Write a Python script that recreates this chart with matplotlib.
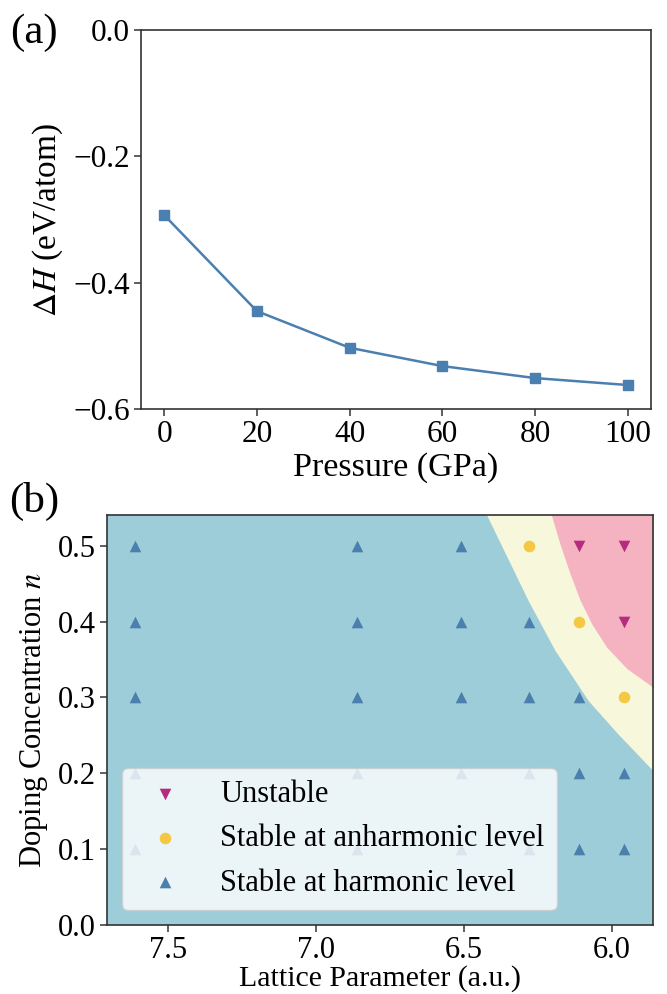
import matplotlib
matplotlib.use("Agg")
import matplotlib.pyplot as plt

plt.rcParams["font.family"] = ["Liberation Serif", "DejaVu Serif"]
plt.rcParams["mathtext.fontset"] = "stix"

# (a) formation enthalpy vs pressure
pressure = [0, 20, 40, 60, 80, 100]
delta_h = [-0.293, -0.445, -0.503, -0.532, -0.551, -0.562]

# (b) stability map
lattice = [7.61, 6.86, 6.51, 6.28, 6.11, 5.96]
doping = [0.1, 0.2, 0.3, 0.4, 0.5]
# status per (doping row, lattice column): U unstable, A anharmonic, H harmonic
status = [
    ["H", "H", "H", "H", "H", "H"],   # n = 0.1
    ["H", "H", "H", "H", "H", "H"],   # n = 0.2
    ["H", "H", "H", "H", "H", "A"],   # n = 0.3
    ["H", "H", "H", "H", "A", "U"],   # n = 0.4
    ["H", "H", "H", "A", "U", "U"],   # n = 0.5
]

# region boundaries (lattice parameter, doping)
harm_edge_a = [6.421, 6.355, 6.283, 6.192, 6.080, 5.982, 5.862, 5.850]
harm_edge_n = [0.539, 0.486, 0.428, 0.362, 0.296, 0.253, 0.204, 0.200]
unst_edge_a = [6.203, 6.175, 6.141, 6.107, 6.068, 6.017, 5.949, 5.863, 5.850]
unst_edge_n = [0.539, 0.502, 0.463, 0.428, 0.397, 0.366, 0.338, 0.314, 0.310]

c_bg = "#9ECDDA"
c_yel = "#F7F7DC"
c_pink = "#F5B3C1"
c_harm = "#4A7FAE"
c_anh = "#F4C842"
c_unst = "#B62A80"
c_line = "#4A7FB0"
c_spine = "#333333"

fig = plt.figure(figsize=(6.67, 9.94), dpi=100)

# ---- panel (a)
ax1 = fig.add_axes([0.2114, 0.5885, 0.7646, 0.3813])
ax1.plot(pressure, delta_h, color=c_line, lw=1.8, marker="s", ms=7.5)
ax1.set_ylim(-0.6, 0.0)
ax1.set_xlim(-5, 105)
ax1.set_xticks(pressure)
ax1.set_yticks([-0.6, -0.4, -0.2, 0.0])
ax1.set_xlabel("Pressure (GPa)", fontsize=24.5, labelpad=2)
ax1.set_ylabel(r"$\Delta H$ (eV/atom)", fontsize=24, labelpad=6)
ax1.tick_params(labelsize=22.5)

# ---- panel (b)
ax2 = fig.add_axes([0.1604, 0.0694, 0.8181, 0.4122])
ax2.set_facecolor(c_bg)
ax2.fill_between(harm_edge_a, harm_edge_n, 0.6, color=c_yel, lw=0, zorder=0.5)
ax2.fill_between(unst_edge_a, unst_edge_n, 0.6, color=c_pink, lw=0, zorder=0.6)

groups = {
    "U": ("Unstable", "v", c_unst),
    "A": ("Stable at anharmonic level", "o", c_anh),
    "H": ("Stable at harmonic level", "^", c_harm),
}
for key in ["U", "A", "H"]:
    label, mk, col = groups[key]
    xs, ys = [], []
    for i, n in enumerate(doping):
        for j, a in enumerate(lattice):
            if status[i][j] == key:
                xs.append(a)
                ys.append(n)
    ax2.scatter(xs, ys, marker=mk, s=70, color=col, lw=0, label=label, zorder=3)

ax2.set_xlim(7.705, 5.862)
ax2.set_ylim(0.0, 0.54)
ax2.set_xticks([7.5, 7.0, 6.5, 6.0])
ax2.set_yticks([0.0, 0.1, 0.2, 0.3, 0.4, 0.5])
ax2.set_xlabel("Lattice Parameter (a.u.)", fontsize=21.5, labelpad=0)
ax2.set_ylabel(r"Doping Concentration $n$", fontsize=22, labelpad=6)
ax2.tick_params(labelsize=22)
ax2.legend(loc="lower left", fontsize=22, framealpha=0.8,
           edgecolor="0.8", fancybox=True)

for ax in (ax1, ax2):
    ax.tick_params(length=5, width=1.1, color=c_spine, pad=3)
    for sp in ax.spines.values():
        sp.set_color(c_spine)
        sp.set_linewidth(1.2)

fig.text(10 / 667, 1 - 33 / 994, "(a)", fontsize=31, va="center", ha="left")
fig.text(9 / 667, 1 - 501 / 994, "(b)", fontsize=31, va="center", ha="left")

fig.savefig("out.png", dpi=100)
